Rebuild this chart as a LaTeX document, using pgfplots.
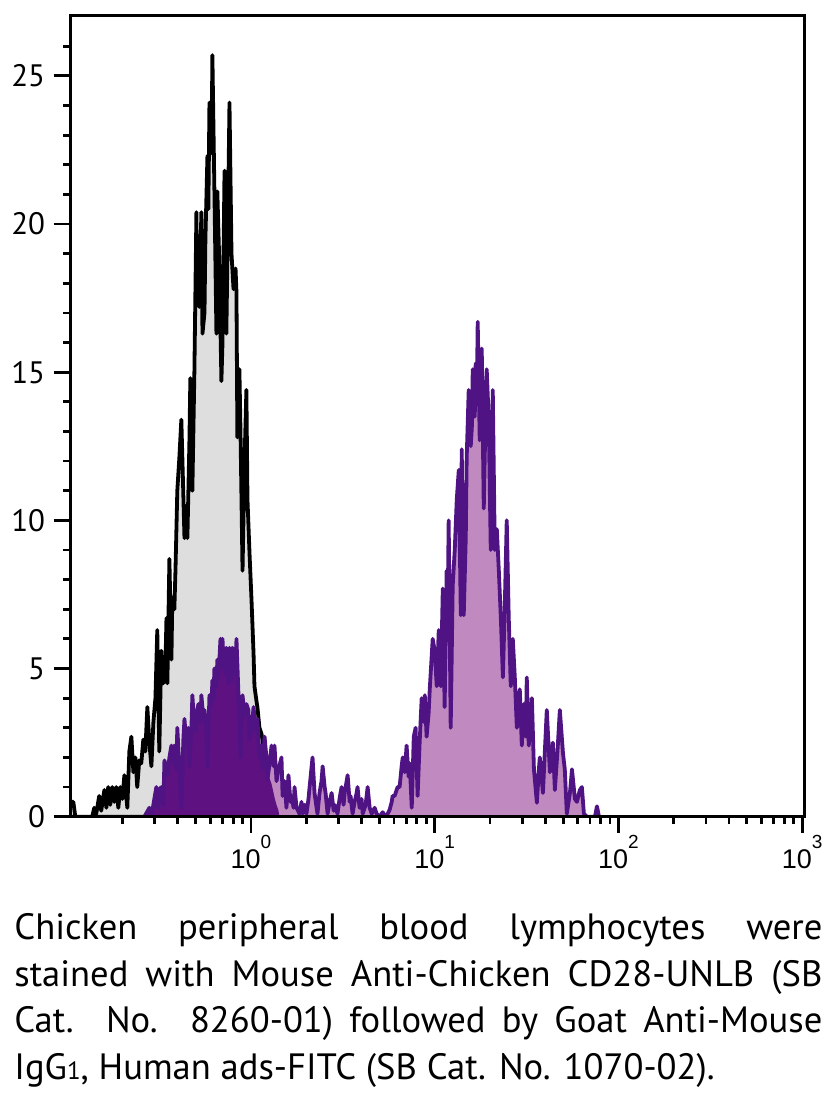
\documentclass[border=0pt]{standalone}
\usepackage{fontspec}
\setmainfont{PT Sans}
\newfontfamily\arialfont{Liberation Sans}
\usepackage{pgfplots}
\pgfplotsset{compat=1.18}
\usepackage{pgfplotstable}
\definecolor{grayfill}{HTML}{DEDEDE}
\definecolor{lightpur}{HTML}{C08AC1}
\definecolor{darkpur}{HTML}{5E1181}
\definecolor{purline}{HTML}{4F1384}

% x in decades (log10 of fluorescence), y = counts
\pgfplotstableread{
L y
-0.989 0
-0.984 0.5
-0.967 0.5
-0.956 0
-0.864 0
-0.853 0.3
-0.842 0.1
-0.826 0.7
-0.815 0.2
-0.798 0.9
-0.787 0.3
-0.777 1.0
-0.766 0.4
-0.755 1.0
-0.744 0.5
-0.733 1.0
-0.722 0.3
-0.711 1.0
-0.700 0.6
-0.689 1.4
-0.673 0.3
-0.662 2.2
-0.651 2.7
-0.640 1.5
-0.629 2.0
-0.619 1.0
-0.608 1.9
-0.597 1.8
-0.586 2.6
-0.575 2.2
-0.564 3.7
-0.553 2.5
-0.542 1.7
-0.531 3.2
-0.520 4.0
-0.510 6.3
-0.499 2.2
-0.488 5.6
-0.477 4.5
-0.466 5.0
-0.460 6.7
-0.455 4.5
-0.444 8.7
-0.433 5.3
-0.428 7.4
-0.417 7.0
-0.411 8.3
-0.401 11.0
-0.390 12.1
-0.379 13.4
-0.373 12.0
-0.362 9.4
-0.351 10.5
-0.346 9.4
-0.335 12.7
-0.330 14.8
-0.319 11.0
-0.308 15.0
-0.297 20.4
-0.292 17.5
-0.286 19.5
-0.281 17.2
-0.270 20.4
-0.264 16.3
-0.253 17.0
-0.248 19.5
-0.237 22.3
-0.232 20.5
-0.226 24.1
-0.215 22.4
-0.210 25.7
-0.199 21.1
-0.188 16.3
-0.183 21.1
-0.172 18.6
-0.161 14.7
-0.155 16.0
-0.144 21.8
-0.134 16.3
-0.128 19.0
-0.123 21.2
-0.117 24.1
-0.106 19.0
-0.095 17.8
-0.084 18.5
-0.079 17.7
-0.074 12.8
-0.063 15.1
-0.057 13.0
-0.046 8.3
-0.035 12.0
-0.025 14.4
-0.019 10.7
-0.008 8.9
0.003 7.3
0.014 5.5
0.019 4.4
0.030 3.9
0.035 3.7
0.046 3.0
0.057 2.8
0.068 2.4
0.079 2.0
0.090 1.6
0.101 1.3
0.112 1.1
0.123 0.8
0.134 0.5
0.144 0.3
0.155 0
}\graydata

\pgfplotstableread{
L y
-0.580 0
-0.553 0.3
-0.542 0
-0.526 0.6
-0.515 1.0
-0.504 0.3
-0.499 0.9
-0.488 1.0
-0.477 0.4
-0.471 1.9
-0.460 1.6
-0.455 1.4
-0.444 2.0
-0.433 2.4
-0.422 1.8
-0.417 2.4
-0.406 1.6
-0.401 3.0
-0.390 1.7
-0.379 0.3
-0.368 2.6
-0.362 3.3
-0.351 2.4
-0.341 3.0
-0.335 1.7
-0.324 3.0
-0.319 4.1
-0.308 3.0
-0.297 2.9
-0.292 3.6
-0.286 3.8
-0.275 3.2
-0.270 4.1
-0.259 3.3
-0.253 3.6
-0.243 3.0
-0.237 1.7
-0.226 4.1
-0.215 3.8
-0.210 4.6
-0.204 4.0
-0.199 5.0
-0.188 4.4
-0.183 5.3
-0.177 4.7
-0.166 6.0
-0.161 5.0
-0.155 6.0
-0.150 5.3
-0.139 4.8
-0.134 5.7
-0.123 4.5
-0.117 5.7
-0.106 4.6
-0.101 5.7
-0.090 5.5
-0.084 4.8
-0.079 6.0
-0.068 4.1
-0.057 2.0
-0.046 4.1
-0.035 3.4
-0.025 3.8
-0.014 3.6
-0.008 2.6
0.003 2.9
0.014 3.7
0.025 2.9
0.035 3.3
0.046 2.0
0.057 2.4
0.063 1.6
0.074 2.7
0.084 2.0
0.090 1.25
0.101 1.8
0.112 2.4
0.123 1.7
0.128 2.4
0.139 1.2
0.150 1.6
0.166 2.0
0.172 0.7
0.183 1.2
0.193 0.3
0.204 1.4
0.215 0.5
0.221 0.7
0.232 0.3
0.237 1.0
0.248 0.3
0.264 0.1
0.275 0.5
0.281 0.1
0.292 0.4
0.302 0.1
0.313 0.6
0.319 1.0
0.335 2.0
0.346 0.8
0.357 0.3
0.362 0.1
0.373 0.8
0.384 1.2
0.390 1.7
0.401 1.0
0.406 0.8
0.417 0.1
0.428 0.5
0.439 0.8
0.450 0.2
0.455 0.4
0.471 0.1
0.482 0.6
0.493 1.0
0.504 0.4
0.510 0.8
0.526 1.4
0.537 0.5
0.542 0.7
0.553 0.1
0.564 0.5
0.575 0.8
0.580 1.0
0.591 0.3
0.602 0.6
0.608 0.1
0.624 0.4
0.635 1.0
0.646 0.3
0.657 0.1
0.673 0.3
0.684 0.1
0.700 0
0.717 0.15
0.733 0
0.744 0.1
0.755 0.24
0.766 0.5
0.771 0.7
0.782 0.7
0.798 1.0
0.809 1.0
0.820 1.7
0.826 2.0
0.837 1.5
0.847 2.4
0.858 1.35
0.864 1.8
0.875 0.3
0.886 2.7
0.896 3.0
0.907 0.7
0.918 2.5
0.929 4.0
0.940 3.2
0.946 4.1
0.956 2.7
0.967 3.5
0.973 4.3
0.989 6.0
1.000 5.6
1.011 4.4
1.022 6.3
1.033 4.4
1.044 7.7
1.054 3.7
1.065 8.3
1.071 7.2
1.076 10.0
1.087 3.0
1.098 7.8
1.109 9.0
1.120 10.7
1.131 11.7
1.142 6.8
1.147 12.4
1.158 6.8
1.169 9.4
1.174 12.1
1.185 14.4
1.196 12.5
1.202 13.1
1.207 15.1
1.218 13.5
1.223 15.3
1.229 14.1
1.234 16.7
1.245 12.7
1.256 15.8
1.267 10.4
1.278 14.0
1.283 15.1
1.294 13.4
1.305 9.0
1.316 14.4
1.327 9.0
1.338 9.7
1.349 8.3
1.360 6.7
1.371 4.7
1.381 7.0
1.392 10.0
1.403 6.7
1.414 4.4
1.425 6.0
1.436 4.7
1.447 3.0
1.452 3.4
1.463 4.3
1.474 2.4
1.485 3.8
1.496 2.7
1.501 4.7
1.512 2.4
1.529 4.0
1.540 1.6
1.556 0.47
1.567 1.6
1.572 2.0
1.589 0.8
1.599 2.15
1.610 3.6
1.627 1.5
1.643 2.5
1.654 0.9
1.670 2.4
1.681 3.6
1.698 2.15
1.708 1.6
1.719 0.1
1.736 0.8
1.747 1.6
1.763 0.6
1.774 0.5
1.790 0.9
1.801 1.0
1.812 0.1
1.828 0
1.872 0
1.883 0.35
1.894 0
}\purpledata

% part of the stained histogram lying over the control histogram
\pgfplotstableread{
L y
-0.580 0
-0.553 0.3
-0.542 0
-0.526 0.6
-0.515 1.0
-0.504 0.3
-0.499 0.9
-0.488 1.0
-0.477 0.4
-0.471 1.9
-0.460 1.6
-0.455 1.4
-0.444 2.0
-0.433 2.4
-0.422 1.8
-0.417 2.4
-0.406 1.6
-0.401 3.0
-0.390 1.7
-0.379 0.3
-0.368 2.6
-0.362 3.3
-0.351 2.4
-0.341 3.0
-0.335 1.7
-0.324 3.0
-0.319 4.1
-0.308 3.0
-0.297 2.9
-0.292 3.6
-0.286 3.8
-0.275 3.2
-0.270 4.1
-0.259 3.3
-0.253 3.6
-0.243 3.0
-0.237 1.7
-0.226 4.1
-0.215 3.8
-0.210 4.6
-0.204 4.0
-0.199 5.0
-0.188 4.4
-0.183 5.3
-0.177 4.7
-0.166 6.0
-0.161 5.0
-0.155 6.0
-0.150 5.3
-0.139 4.8
-0.134 5.7
-0.123 4.5
-0.117 5.7
-0.106 4.6
-0.101 5.7
-0.090 5.5
-0.084 4.8
-0.079 6.0
-0.068 4.1
-0.057 2.0
-0.046 4.1
-0.035 3.4
-0.025 3.8
-0.014 3.6
-0.008 2.6
0.003 2.9
0.014 3.7
0.025 2.9
0.035 3.3
0.046 2.0
0.057 2.4
0.063 1.6
0.074 2.2
0.084 1.8
0.090 1.25
0.101 1.3
0.112 1.1
0.123 0.8
0.128 0.65
0.139 0.4
0.150 0.2
0.155 0
}\darkdata

\begin{document}
\begin{tikzpicture}
\path[use as bounding box] (-35pt,-139.15pt) rectangle (382pt,408.35pt);
\begin{axis}[
  at={(0pt,0pt)}, anchor=south west,
  scale only axis, width=367pt, height=400.5pt,
  xmin=-0.985, xmax=3.010, ymin=0, ymax=27.03,
  axis on top,
  axis line style={line width=1.5pt},
  tick align=outside, xtick pos=bottom, ytick pos=left,
  xtick={0,1,2,3},
  xticklabels={{10\raisebox{10pt}{\fontsize{9.5}{9.5}\selectfont 0}},
                {10\raisebox{10pt}{\fontsize{9.5}{9.5}\selectfont 1}},
                {10\raisebox{10pt}{\fontsize{9.5}{9.5}\selectfont 2}},
                {10\raisebox{10pt}{\fontsize{9.5}{9.5}\selectfont 3}}},
  minor xtick={-0.699,-0.523,-0.398,-0.301,-0.222,-0.155,-0.097,-0.046,
               0.301,0.477,0.602,0.699,0.778,0.845,0.903,0.954,
               1.301,1.477,1.602,1.699,1.778,1.845,1.903,1.954,
               2.301,2.477,2.602,2.699,2.778,2.845,2.903,2.954},
  ytick={0,5,10,15,20,25},
  minor ytick={1,2,3,4,6,7,8,9,11,12,13,14,16,17,18,19,21,22,23,24,26},
  major tick length=8.25pt, minor tick length=3.5pt,
  tick style={line width=1.4pt, black},
  /pgf/number format/assume math mode=true,
  yticklabel style={font=\fontsize{15.5}{15.5}\selectfont, inner sep=0pt, xshift=-4pt},
  xticklabel style={font=\arialfont\fontsize{13.5}{13.5}\selectfont, inner sep=0pt, yshift=-1pt},
]
\addplot[fill=grayfill, draw=black, line width=1.9pt, line join=round] table[x=L, y=y] {\graydata} \closedcycle;
\addplot[fill=lightpur, draw=none] table[x=L, y=y] {\purpledata} \closedcycle;
\addplot[fill=darkpur, draw=none] table[x=L, y=y] {\darkdata} \closedcycle;
\addplot[draw=purline, line width=1.9pt, line join=round] table[x=L, y=y] {\purpledata};
\end{axis}
\node[anchor=base west, inner sep=0pt] at (-28pt,-61.65pt) {\parbox[t]{404pt}{\fontsize{18.3}{23.25}\selectfont
\tolerance=10000 \hyphenpenalty=10000 \exhyphenpenalty=10000
Chicken peripheral blood lymphocytes were\linebreak
stained with Mouse Anti-Chicken CD28-UNLB (SB\linebreak
Cat. No. 8260-01) followed by Goat Anti-Mouse\linebreak
IgG{\fontsize{12.5}{12.5}\selectfont 1}, Human ads-FITC (SB Cat. No. 1070-02).}};
\end{tikzpicture}
\end{document}
